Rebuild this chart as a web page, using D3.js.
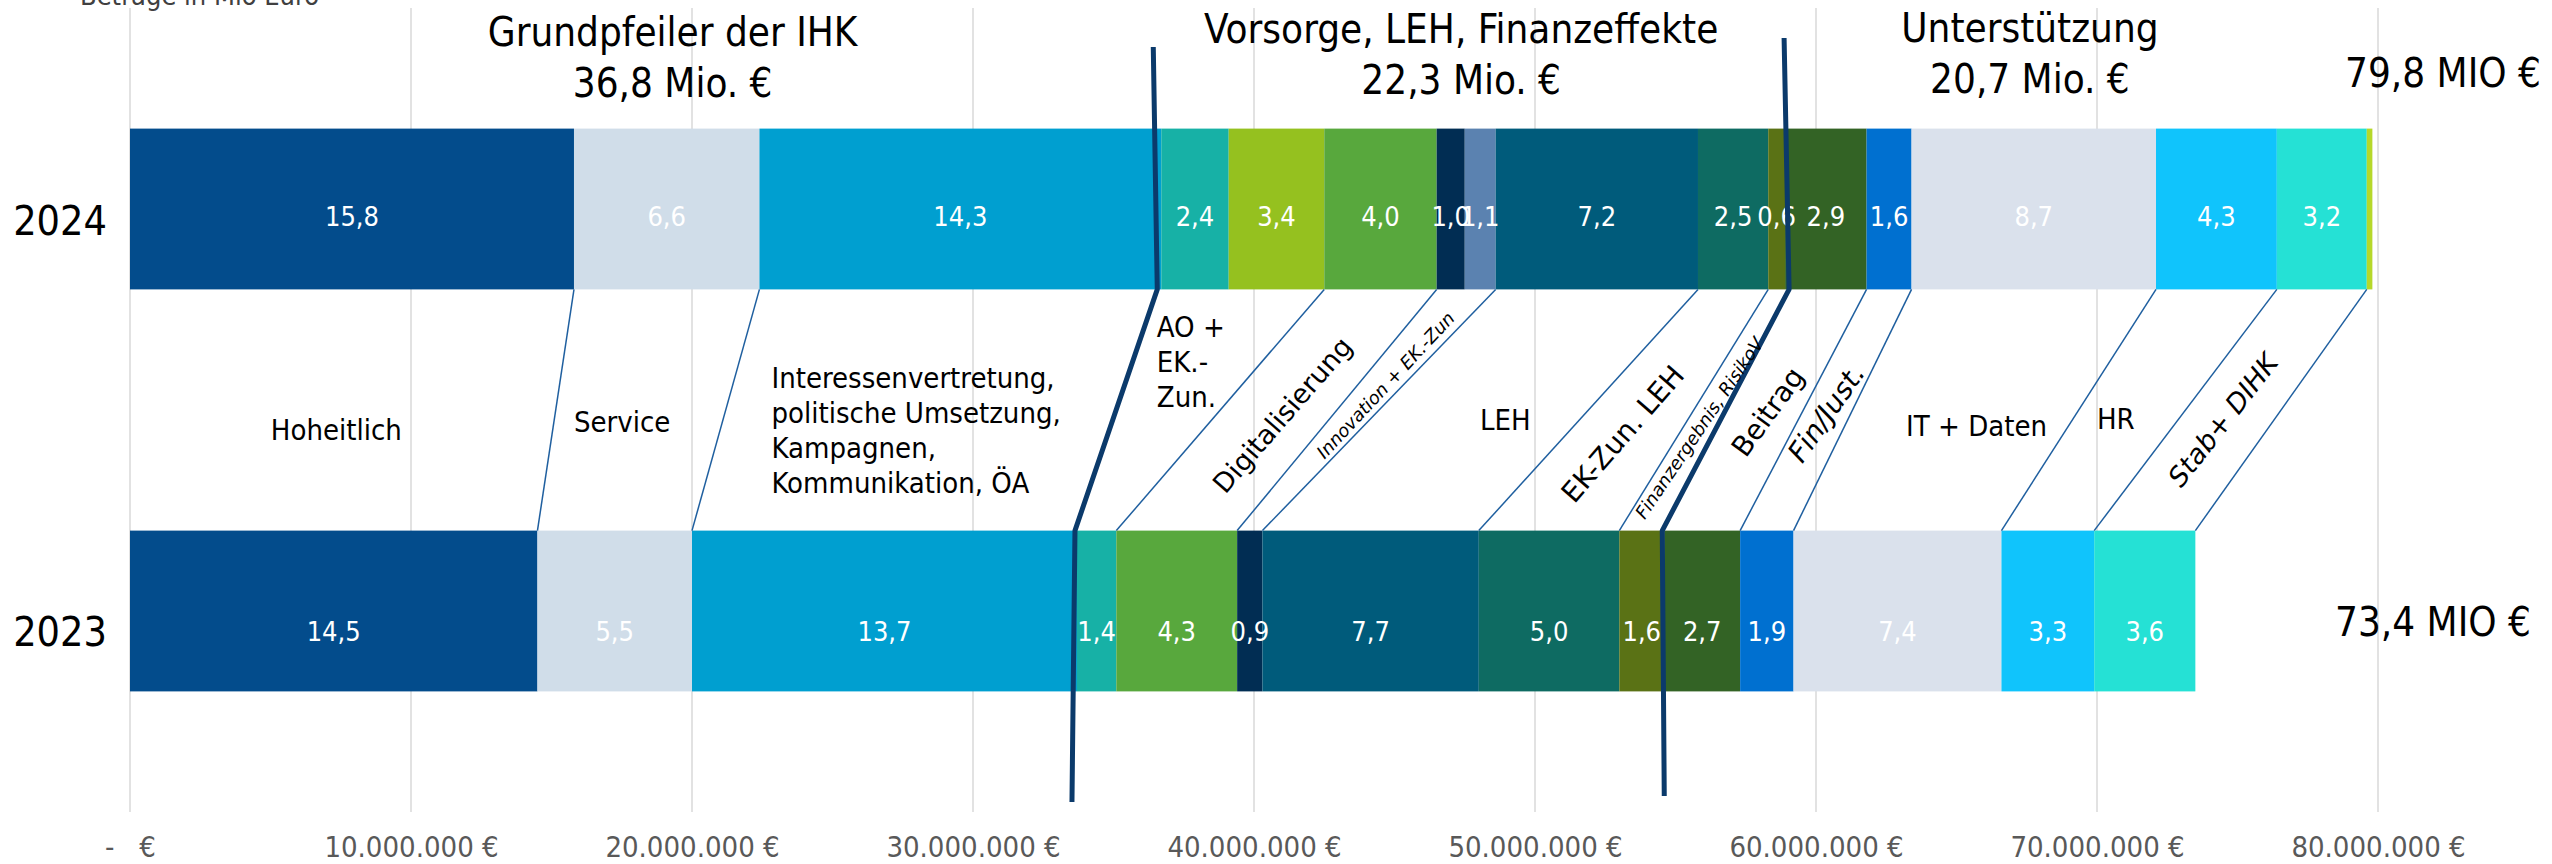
<!DOCTYPE html>
<html>
<head>
<meta charset="utf-8">
<script src="https://cdn.jsdelivr.net/npm/d3@7"></script>
<style>
  body { margin: 0; background: #fff; }
  svg text { font-family: "DejaVu Sans Condensed", "DejaVu Sans", sans-serif; font-stretch: condensed; }
  .grid line { stroke: #d9d9d9; stroke-width: 1.5; }
  .axis-x text { fill: #595959; font-size: 29px; white-space: pre; }
  .axis-y text { fill: #000; font-size: 41px; }
  .bar-label { fill: #fff; font-size: 27px; }
  .band-label { fill: #000; }
  .title { fill: #000; font-size: 40px; }
</style>
</head>
<body>
<div id="chart"></div>
<script>
// values in Mio. Euro, one entry per segment, left to right
const years = ['2024', '2023'];
const segmentNames = [
  'Hoheitlich', 'Service', 'Interessenvertretung', 'AO', 'AO EK.-Zun.',
  'Digitalisierung', 'Innovation', 'Innovation EK.-Zun', 'LEH', 'EK-Zun. LEH',
  'Finanzergebnis, RisikoV', 'Beitrag', 'Fin/Just.', 'IT + Daten', 'HR',
  'Stab+ DIHK', 'Sonstiges'
];
const values2024 = [15.8, 6.6, 14.3, 2.4, 3.4, 4.0, 1.0, 1.1, 7.2, 2.5, 0.6, 2.9, 1.6, 8.7, 4.3, 3.2, 0.2];
const values2023 = [14.5, 5.5, 13.7, 1.4, 0, 4.3, 0.9, 0, 7.7, 5.0, 1.6, 2.7, 1.9, 7.4, 3.3, 3.6, 0];
const segmentColors = [
  '#034c8c', '#d0dde9', '#009fd0', '#17b1a6', '#95c11f',
  '#58a83d', '#012d53', '#5b82b0', '#005b7b', '#0e6b62',
  '#5a7215', '#336325', '#0070d0', '#dae1ec', '#10c4fc',
  '#25e1d5', '#b6d82a'
];
const unlabeled = ['Sonstiges'];

// categories between the connector lines (segments they group)
const bandNames = [
  ['Hoheitlich'], ['Service'],
  ['Interessenvertretung,', 'politische Umsetzung,', 'Kampagnen,', 'Kommunikation, ÖA'],
  ['AO +', 'EK.-', 'Zun.'], ['Digitalisierung'], ['Innovation + EK.-Zun'], ['LEH'],
  ['EK-Zun. LEH'], ['Finanzergebnis, RisikoV'], ['Beitrag'], ['Fin/Just.'],
  ['IT + Daten'], ['HR'], ['Stab+ DIHK']
];
const bandMembers = [[0], [1], [2], [3, 4], [5], [6, 7], [8], [9], [10], [11], [12], [13], [14], [15]];

const groupTitles = ['Grundpfeiler der IHK', 'Vorsorge, LEH, Finanzeffekte', 'Unterstützung'];
const groupTotals = ['36,8 Mio. €', '22,3 Mio. €', '20,7 Mio. €'];
const groupBands = [[0, 2], [3, 8], [9, 13]];
const yearTotals = ['79,8 MIO €', '73,4 MIO €'];
const xTicks = [0, 10, 20, 30, 40, 50, 60, 70, 80];

// layout of the annotations (not data)
const bandLayout = [
  { cy: 430, dx: -5, size: 29 },
  { cy: 422, dx: -16, size: 29 },
  { cy: 430, dx: 0, size: 29, lh: 35, block: true },
  { cy: 362, dx: -8, size: 29, lh: 35, block: true },
  { cy: 415, dx: 8, size: 27, rot: -49, wide: true },
  { cy: 385, dx: 5, size: 18, rot: -47, wide: true, italic: true },
  { cy: 420, dx: 31, size: 29 },
  { cy: 434, dx: 0, size: 28, rot: -49, wide: true },
  { cy: 428, dx: 0, size: 18, rot: -56, wide: true, italic: true },
  { cy: 412, dx: 5, size: 28, rot: -54, wide: true },
  { cy: 413, dx: 0, size: 28, rot: -55, wide: true, italic: true },
  { cy: 426, dx: 20, size: 29 },
  { cy: 419, dx: -10, size: 29 },
  { cy: 420, dx: -3, size: 27, rot: -52, wide: true, italic: true }
];
const separators = [
  { afterBand: 2, top: 47, bottom: 802, dx: [-8, -4, -2, -5] },
  { afterBand: 8, top: 38, bottom: 796, dx: [-1, 4, -2, 0] }
];
const titleLayout = [{ dx: 27, y: 46 }, { dx: -12, y: 43 }, { dx: -46, y: 42 }];

const width = 2552;
const height = 864;

const locale = d3.formatLocale({ decimal: ',', thousands: '.', grouping: [3], currency: ['', ' €'] });
const fmtTick = d => d === 0 ? '-   €' : locale.format(',.0f')(d * 1e6) + ' €';
const fmtVal = locale.format('.1f');

const table = years.map((yr, i) => {
  const row = { year: yr };
  const vals = i === 0 ? values2024 : values2023;
  segmentNames.forEach((k, j) => row[k] = vals[j]);
  return row;
});
const series = d3.stack().keys(segmentNames)(table);

const xScale = d3.scaleLinear()
  .domain([0, 80])
  .range([130, 2378]);

const yScale = d3.scaleBand()
  .domain(years)
  .range([8, 812])
  .paddingInner(0.6)
  .paddingOuter(0.3);

const bw = yScale.bandwidth();

const svg = d3.select('#chart')
  .append('svg')
    .attr('width', width)
    .attr('height', height)
    .style('display', 'block');

// grid
svg.append('g')
  .attr('class', 'grid')
  .selectAll('line')
  .data(xTicks)
  .enter().append('line')
    .attr('x1', d => xScale(d))
    .attr('x2', d => xScale(d))
    .attr('y1', 8)
    .attr('y2', 812);

// x axis
const xAxis = svg.append('g')
  .attr('class', 'axis-x')
  .attr('transform', 'translate(0, 812)')
  .call(d3.axisBottom(xScale).tickValues(xTicks).tickFormat(fmtTick).tickSize(0).tickPadding(24));
xAxis.select('.domain').remove();
xAxis.attr('font-family', null).attr('font-size', null);
xAxis.selectAll('text').attr('xml:space', 'preserve');

// y axis (years)
const yAxis = svg.append('g')
  .attr('class', 'axis-y')
  .attr('transform', 'translate(130, 0)')
  .call(d3.axisLeft(yScale).tickSize(0).tickPadding(23));
yAxis.select('.domain').remove();
yAxis.attr('font-family', null).attr('font-size', null);
yAxis.selectAll('text').attr('dy', d => d === '2024' ? '0.64em' : '0.86em');

// bars
const layers = svg.append('g')
  .selectAll('g')
  .data(series)
  .enter().append('g')
    .attr('fill', (d, i) => segmentColors[i]);

layers.selectAll('rect')
  .data(d => d.filter(p => p[1] > p[0]))
  .enter().append('rect')
    .attr('x', d => xScale(d[0]))
    .attr('width', d => xScale(d[1]) - xScale(d[0]))
    .attr('y', d => yScale(d.data.year))
    .attr('height', bw);

// value labels
const labelShift = { '2024': 7, '2023': 20 };
series.forEach(s => {
  if (unlabeled.includes(s.key)) return;
  svg.append('g')
    .selectAll('text')
    .data(s.filter(p => p[1] > p[0]))
    .enter().append('text')
      .attr('class', 'bar-label')
      .attr('text-anchor', 'middle')
      .attr('dominant-baseline', 'central')
      .attr('x', d => xScale((d[0] + d[1]) / 2))
      .attr('y', d => yScale(d.data.year) + bw / 2 + labelShift[d.data.year])
      .text(d => fmtVal(d[1] - d[0]));
});

// band edges from stack
const bandEdge = (b, yi) => {
  const m = bandMembers[b];
  return [series[m[0]][yi][0], series[m[m.length - 1]][yi][1]];
};
const yTopBottom = yScale('2024') + bw;
const yBottomTop = yScale('2023');
const sepBands = separators.map(s => s.afterBand);

// thin connectors
svg.append('g')
  .selectAll('line')
  .data(bandMembers.map((m, b) => b).filter(b => !sepBands.includes(b)))
  .enter().append('line')
    .attr('x1', b => xScale(bandEdge(b, 0)[1]))
    .attr('y1', yTopBottom)
    .attr('x2', b => xScale(bandEdge(b, 1)[1]))
    .attr('y2', yBottomTop)
    .attr('stroke', '#1f5f9f')
    .attr('stroke-width', 1.5);

// thick group separators
const sepLine = d3.line();
svg.append('g')
  .selectAll('path')
  .data(separators)
  .enter().append('path')
    .attr('fill', 'none')
    .attr('stroke', '#0b3a6b')
    .attr('stroke-width', 5)
    .attr('stroke-linejoin', 'round')
    .attr('d', s => {
      const b24 = xScale(bandEdge(s.afterBand, 0)[1]);
      const b23 = xScale(bandEdge(s.afterBand, 1)[1]);
      return sepLine([
        [b24 + s.dx[0], s.top],
        [b24 + s.dx[1], yTopBottom],
        [b23 + s.dx[2], yBottomTop],
        [b23 + s.dx[3], s.bottom]
      ]);
    });

// band labels, placed inside the parallelogram between connectors
bandNames.forEach((lines, b) => {
  const L = bandLayout[b];
  const e24 = bandEdge(b, 0);
  const e23 = bandEdge(b, 1);
  const top = xScale((e24[0] + e24[1]) / 2);
  const bot = xScale((e23[0] + e23[1]) / 2);
  const f = (L.cy - yTopBottom) / (yBottomTop - yTopBottom);
  const cx = top + (bot - top) * f + L.dx;

  const g = svg.append('g').attr('class', 'band-label');
  const t = g.append('text')
    .attr('font-size', L.size)
    .attr('dominant-baseline', 'central')
    .style('font-style', L.italic ? 'italic' : null);
  if (L.wide) t.style('font-family', '"DejaVu Sans", sans-serif').style('font-stretch', 'normal');

  if (L.block) {
    t.attr('text-anchor', 'start');
    lines.forEach((ln, i) => {
      t.append('tspan')
        .attr('x', 0)
        .attr('y', (i - (lines.length - 1) / 2) * L.lh)
        .text(ln);
    });
    const w = t.node().getBBox().width;
    g.attr('transform', `translate(${cx - w / 2}, ${L.cy})`);
  } else {
    t.attr('text-anchor', 'middle').text(lines[0]);
    g.attr('transform', `translate(${cx}, ${L.cy}) rotate(${L.rot || 0})`);
  }
});

// group titles
groupTitles.forEach((title, i) => {
  const [b0, b1] = groupBands[i];
  const cx = xScale((bandEdge(b0, 0)[0] + bandEdge(b1, 0)[1]) / 2) + titleLayout[i].dx;
  const t = svg.append('text')
    .attr('class', 'title')
    .attr('text-anchor', 'middle');
  t.append('tspan').attr('x', cx).attr('y', titleLayout[i].y).text(title);
  t.append('tspan').attr('x', cx).attr('y', titleLayout[i].y + 51).text(groupTotals[i]);
});

// year totals
svg.append('g')
  .selectAll('text')
  .data(years)
  .enter().append('text')
    .attr('class', 'title')
    .attr('text-anchor', 'middle')
    .attr('x', (d, i) => xScale(80) + (i === 0 ? 65 : 55))
    .attr('y', d => d === '2024' ? yScale(d) - 42 : yScale(d) + bw / 2 + 25)
    .text((d, i) => yearTotals[i]);

// unit note, cut at the top edge
svg.append('text')
  .attr('x', 80)
  .attr('y', 5)
  .attr('font-size', 27)
  .attr('fill', '#404040')
  .text('Beträge in Mio Euro');
</script>
</body>
</html>
